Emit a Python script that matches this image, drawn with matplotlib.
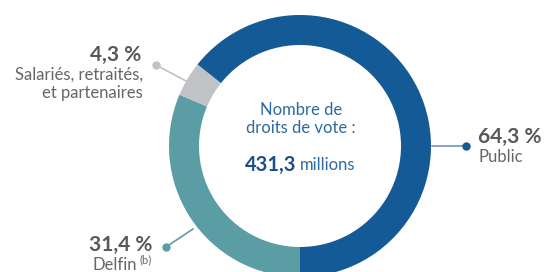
#!/usr/bin/env python

#===========================================================================
#
# Donut chart - split of voting rights
#
#===========================================================================

import matplotlib
matplotlib.use("Agg")
import matplotlib.pyplot as plt

# data - order is clockwise starting from the bottom of the ring

segNames = ["Delfin", "Salariés, retraités,\net partenaires", "Public"]
segValues = [31.4, 4.3, 64.3]
segColors = ["#5a9da4", "#c1c2c6", "#135a96"]

totalVotes = "431,3"
totalUnit = "millions"
centerTitle = "Nombre de\ndroits de vote :"

figW = 545
figH = 272

def pctStr(val):
    return ("%.1f" % val).replace(".", ",") + " %"

########################################################################
# pixel coords (top-left origin) -> axes data coords

def py(y):
    return figH - y

def main():

    plt.rcParams['font.family'] = ['Lato', 'DejaVu Sans']

    fig = plt.figure(figsize=(figW / 100.0, figH / 100.0), dpi=100)
    ax = fig.add_axes([0, 0, 1, 1])

    cx = 300
    cy = py(146)
    rOut = 131
    ringW = 30

    ax.pie(segValues, colors=segColors, startangle=270, counterclock=False,
           center=(cx, cy), radius=rOut,
           wedgeprops=dict(width=ringW, linewidth=0))

    ax.set_xlim(0, figW)
    ax.set_ylim(0, figH)
    ax.set_aspect('equal')
    ax.set_axis_off()

    numCol = "#58585a"
    subCol = "#666668"
    numSize = 15
    subSize = 12

    # center text

    ax.text(cx + 1, py(119), centerTitle, ha='center', va='center',
            fontsize=12, color="#2d6aa3", linespacing=1.2)
    ax.text(296, py(165), totalVotes, ha='right', va='center',
            fontsize=14.5, fontweight='bold', color="#1a4f8c")
    ax.text(300, py(165), totalUnit, ha='left', va='center',
            fontsize=12, color="#2d6aa3")

    # Public - right side

    ax.plot([432, 466], [py(146), py(146)], color="#6f95bf", lw=1.2)
    ax.plot([466], [py(146)], marker='o', ms=5, color=segColors[2])
    ax.text(478, py(137), pctStr(segValues[2]), ha='left', va='center',
            fontsize=numSize, fontweight='bold', color=numCol)
    ax.text(479, py(157), segNames[2], ha='left', va='center',
            fontsize=subSize, color=subCol)

    # Salaries - upper left

    ax.plot([156, 186], [py(65), py(81)], color="#c1c2c6", lw=1.2)
    ax.plot([156], [py(65)], marker='o', ms=5, color="#c1c2c6")
    ax.text(141, py(55), pctStr(segValues[1]), ha='right', va='center',
            fontsize=numSize, fontweight='bold', color=numCol)
    ax.text(143, py(84), segNames[1], ha='right', va='center',
            fontsize=subSize, color=subCol, linespacing=1.15)

    # Delfin - lower left

    ax.plot([166, 193], [py(247), py(229)], color=segColors[0], lw=1.2)
    ax.plot([166], [py(247)], marker='o', ms=5, color=segColors[0])
    ax.text(152, py(245), pctStr(segValues[0]), ha='right', va='center',
            fontsize=numSize, fontweight='bold', color=numCol)
    ax.text(92, py(265), segNames[0], ha='left', va='center',
            fontsize=subSize, color=subCol)
    ax.text(140, py(260), "(b)", ha='left', va='center',
            fontsize=8, color=subCol)

    fig.savefig("out.png", dpi=100)

if __name__ == "__main__":
    main()
